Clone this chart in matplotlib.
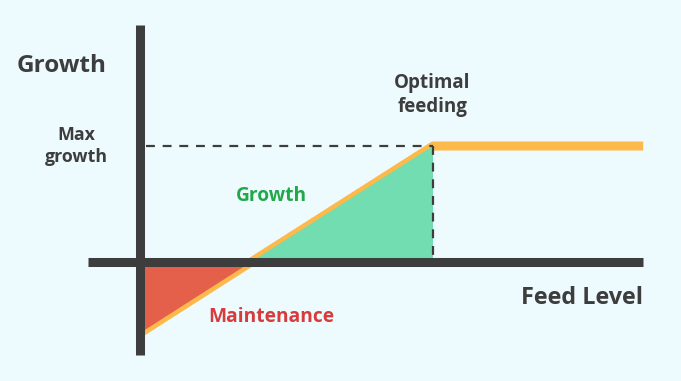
import matplotlib.pyplot as plt
import numpy as np

# feed level vs growth (optimum feeding = 1, max growth = 1)
feed = [0.0, 0.379, 1.0, 1.717]
growth = [-0.612, 0.0, 1.0, 1.0]

bg = '#eefbfe'
dark = '#3d3d3d'
orange = '#fdb94a'
red = '#e5604a'
green = '#72ddb0'

plt.rcParams['font.family'] = ['Open Sans', 'DejaVu Sans']

fig = plt.figure(figsize=(6.81, 3.81), dpi=100, facecolor=bg)
ax = fig.add_axes([0, 0, 1, 1])
ax.set_facecolor(bg)
ax.set_xlim(-0.478, 1.846)
ax.set_ylim(-1.026, 2.259)
ax.axis('off')

# response curve
ax.plot(feed, growth, color=orange, lw=6.5, solid_capstyle='butt',
        solid_joinstyle='round', zorder=2)

# maintenance (below zero) and growth (above zero) areas
ax.fill([feed[0], feed[1], feed[0]], [0, 0, growth[0]], color=red, lw=0, zorder=3)
ax.fill([feed[1], feed[2], feed[2]], [0, 0, growth[2]], color=green, lw=0, zorder=3)

# guide lines to max growth / optimal feeding
ax.plot([0.02, feed[2]], [growth[2], growth[2]], color=dark, lw=1.6,
        ls=(0, (4, 3.5)), zorder=3)
ax.plot([feed[2], feed[2]], [growth[2], 0], color=dark, lw=1.6,
        ls=(0, (4, 3.5)), zorder=3)

# axes
ax.plot([-0.177, 1.717], [0, 0], color=dark, lw=6.5, solid_capstyle='butt', zorder=4)
ax.plot([0, 0], [-0.80, 2.04], color=dark, lw=6.5, solid_capstyle='butt', zorder=4)

# labels
ax.text(-0.266, 1.69, 'Growth', fontsize=17.5, fontweight='bold', color=dark,
        ha='center', va='center')
ax.text(-0.217, 1.0, 'Max\ngrowth', fontsize=12.8, fontweight='bold', color=dark,
        ha='center', va='center', linespacing=1.35)
ax.text(0.997, 1.44, 'Optimal\nfeeding', fontsize=13.5, fontweight='bold', color=dark,
        ha='center', va='center', linespacing=1.3)
ax.text(1.508, -0.31, 'Feed Level', fontsize=16.8, fontweight='bold', color=dark,
        ha='center', va='center')
ax.text(0.45, 0.57, 'Growth', fontsize=13.8, fontweight='bold', color='#22a84a',
        ha='center', va='center')
ax.text(0.447, -0.47, 'Maintenance', fontsize=13.8, fontweight='bold', color='#d63c3c',
        ha='center', va='center')

fig.savefig('out.png', dpi=100, facecolor=bg)
